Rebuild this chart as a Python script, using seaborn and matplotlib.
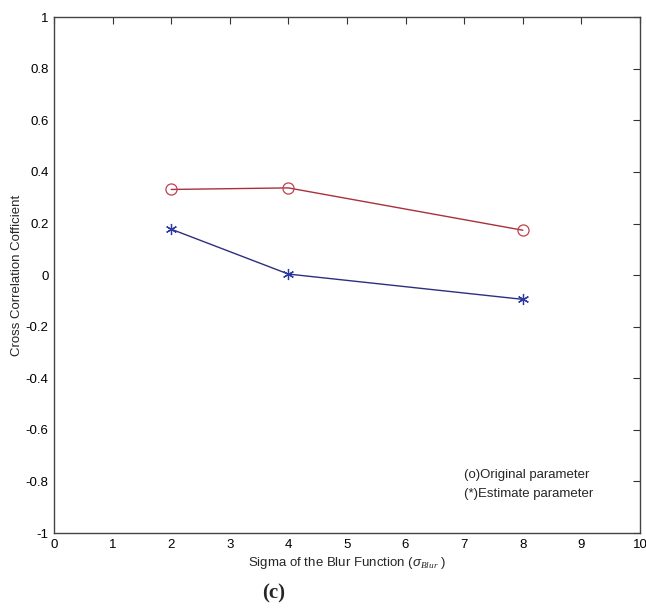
import matplotlib
matplotlib.use("Agg")
import matplotlib.pyplot as plt
import seaborn as sns
import pandas as pd

sigma = [2, 4, 8]
original = [0.332, 0.338, 0.174]
estimate = [0.178, 0.004, -0.094]

xticks = list(range(0, 11))
yticks = [-1, -0.8, -0.6, -0.4, -0.2, 0, 0.2, 0.4, 0.6, 0.8, 1]
ytick_labels = ["-1", "-0.8", "-0.6", "-0.4", "-0.2", "0", "0.2", "0.4", "0.6", "0.8", "1"]

sns.set_style("white")
plt.rcParams["font.family"] = ["Liberation Sans", "DejaVu Sans"]
plt.rcParams["mathtext.fontset"] = "custom"
plt.rcParams["mathtext.it"] = "Liberation Sans:italic"
plt.rcParams["mathtext.rm"] = "Liberation Serif:italic"

df = pd.DataFrame({"sigma": sigma, "original": original, "estimate": estimate})

fig = plt.figure(figsize=(6.46, 6.12), dpi=100)
ax = fig.add_axes([0.0836, 0.129, 0.907, 0.843])

sns.lineplot(data=df, x="sigma", y="original", ax=ax, color="#a8313d", lw=1.0,
             marker="o", markersize=8, markerfacecolor="none",
             markeredgecolor="#c04050", markeredgewidth=0.9)
sns.lineplot(data=df, x="sigma", y="estimate", ax=ax, color="#2e2e7e", lw=1.0,
             marker=(6, 2, 0), markersize=8, markeredgecolor="#2a3aa0",
             markeredgewidth=0.9)

ax.set_xlim(0, 10)
ax.set_ylim(-1, 1)
ax.set_xticks(xticks)
ax.set_yticks(yticks)
ax.set_yticklabels(ytick_labels)
ax.tick_params(direction="in", top=True, right=True, length=5, width=0.8,
               colors="#333333", labelcolor="black", labelsize=9.5, pad=4)
for sp in ax.spines.values():
    sp.set_color("#444444")
    sp.set_linewidth(1.0)

ax.set_xlabel(r"Sigma of the Blur Function ($\sigma_{\mathrm{Blur}}$ )",
              fontsize=9.5, labelpad=3)
ax.set_ylabel("Cross Correlation Cofficient", fontsize=9.5, labelpad=2)

ax.text(7.0, -0.775, "(o)Original parameter", fontsize=9.5, va="center")
ax.text(7.0, -0.85, "(*)Estimate parameter", fontsize=9.5, va="center")

fig.text(0.423, 0.031, "(c)", fontsize=15, fontweight="bold",
         family="Liberation Serif", ha="center", va="center")

fig.savefig("out.png", dpi=100)
